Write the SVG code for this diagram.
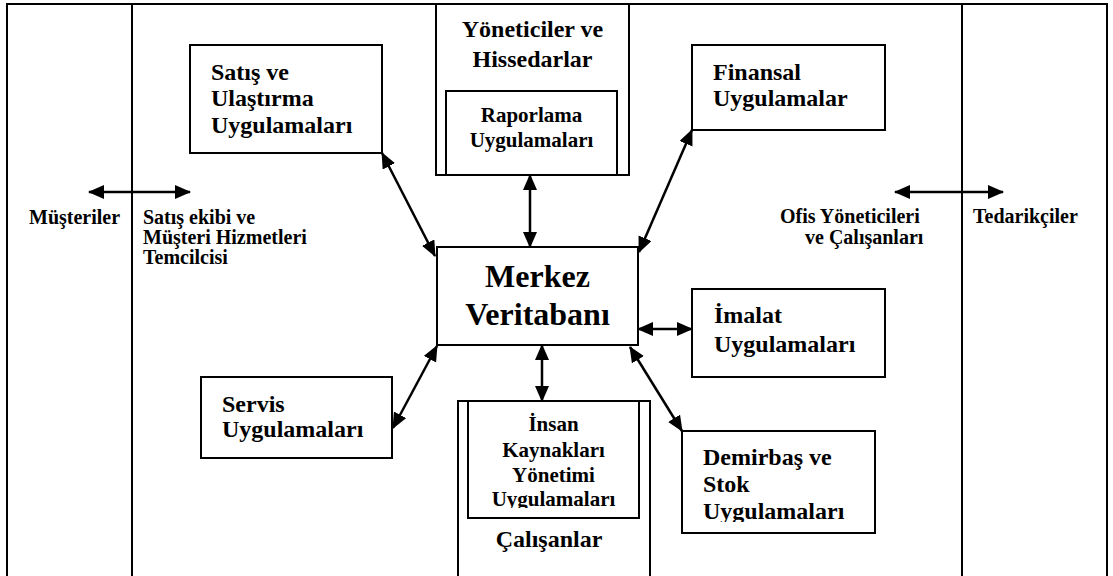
<svg xmlns="http://www.w3.org/2000/svg" width="1113" height="576" viewBox="0 0 1113 576">
<style>
text{font-family:"Liberation Serif","Times New Roman",serif;font-weight:bold;fill:#000}
.box{fill:none;stroke:#000;stroke-width:2}
.frame{fill:none;stroke:#000;stroke-width:2}
.conn{fill:none;stroke:#000;stroke-width:2.5;marker-start:url(#ah);marker-end:url(#ah)}
.t24{font-size:24px}
.t21{font-size:21px}
.t20{font-size:20px}
.t32{font-size:32px}
.mid{text-anchor:middle}
</style>
<defs>
<marker id="ah" markerUnits="userSpaceOnUse" markerWidth="18" markerHeight="16" refX="15" refY="7" orient="auto-start-reverse">
<path d="M0,0 L16,7 L0,14 z" fill="#000"/>
</marker>
<clipPath id="clipInsan"><rect x="468" y="401" width="171" height="107"/></clipPath>
<clipPath id="clipDemir"><rect x="682" y="431" width="193" height="91"/></clipPath>
</defs>
<rect width="1113" height="576" fill="#fff"/>
<g id="frame">
<path class="frame" d="M7,576 L7,4 L1107,4 L1107,576"/>
<line class="frame" x1="132" y1="4" x2="132" y2="576" stroke-width="1.6"/>
<line class="frame" x1="962" y1="4" x2="962" y2="576" stroke-width="1.6"/>
</g>
<g id="connectors">
<line class="conn" x1="89" y1="192" x2="190" y2="192"/>
<line class="conn" x1="895" y1="192" x2="1003" y2="192"/>
<line class="conn" x1="382" y1="153" x2="435" y2="256"/>
<line class="conn" x1="692" y1="130" x2="639" y2="252"/>
<line class="conn" x1="530" y1="175" x2="530" y2="247"/>
<line class="conn" x1="638" y1="329" x2="692" y2="329"/>
<line class="conn" x1="393" y1="428" x2="437" y2="346"/>
<line class="conn" x1="542" y1="345" x2="542" y2="401"/>
<line class="conn" x1="630" y1="347" x2="682" y2="431"/>
</g>
<g id="musteriler">
<text class="t20" x="29" y="224">Müşteriler</text>
</g>
<g id="satis-ekibi">
<text class="t20" x="143" y="224">Satış ekibi ve</text>
<text class="t20" x="143" y="244">Müşteri Hizmetleri</text>
<text class="t20" x="143" y="264">Temcilcisi</text>
</g>
<g id="ofis">
<text class="t20" x="780" y="223">Ofis Yöneticileri</text>
<text class="t20" x="805" y="244">ve Çalışanları</text>
</g>
<g id="tedarikciler">
<text class="t20" x="973" y="223">Tedarikçiler</text>
</g>
<g id="satis">
<rect class="box" x="190" y="45" width="192" height="108"/>
<text class="t24" x="211" y="80">Satış ve</text>
<text class="t24" x="211" y="106">Ulaştırma</text>
<text class="t24" x="211" y="133">Uygulamaları</text>
</g>
<g id="yoneticiler">
<rect class="box" x="436" y="4" width="193" height="171"/>
<text class="t24 mid" x="532.5" y="37">Yöneticiler ve</text>
<text class="t24 mid" x="532.5" y="67">Hissedarlar</text>
</g>
<g id="raporlama">
<path class="box" d="M446,175 L446,91 L617,91 L617,175"/>
<text class="t21 mid" x="531.5" y="122">Raporlama</text>
<text class="t21 mid" x="531.5" y="147">Uygulamaları</text>
</g>
<g id="finansal">
<rect class="box" x="692" y="45" width="193" height="85"/>
<text class="t24" x="713" y="80">Finansal</text>
<text class="t24" x="713" y="106">Uygulamalar</text>
</g>
<g id="merkez">
<rect class="box" x="437" y="247" width="201" height="98"/>
<text class="t32 mid" x="537.5" y="287">Merkez</text>
<text class="t32 mid" x="537.5" y="325">Veritabanı</text>
</g>
<g id="imalat">
<rect class="box" x="692" y="289" width="193" height="88"/>
<text class="t24" x="714" y="323">İmalat</text>
<text class="t24" x="714" y="352">Uygulamaları</text>
</g>
<g id="servis">
<rect class="box" x="201" y="377" width="191" height="81"/>
<text class="t24" x="222" y="412">Servis</text>
<text class="t24" x="222" y="437">Uygulamaları</text>
</g>
<g id="calisanlar">
<path class="box" d="M458,576 L458,401 L650,401 L650,576"/>
<text class="t24 mid" x="549" y="547">Çalışanlar</text>
</g>
<g id="insan-kaynaklari">
<rect class="box" x="468" y="401" width="171" height="117"/>
<g clip-path="url(#clipInsan)">
<text class="t21 mid" x="553.5" y="431">İnsan</text>
<text class="t21 mid" x="553.5" y="457">Kaynakları</text>
<text class="t21 mid" x="553.5" y="482">Yönetimi</text>
<text class="t21 mid" x="553.5" y="506">Uygulamaları</text>
</g>
</g>
<g id="demirbas">
<rect class="box" x="682" y="431" width="193" height="102"/>
<g clip-path="url(#clipDemir)">
<text class="t24" x="703" y="465">Demirbaş ve</text>
<text class="t24" x="703" y="492">Stok</text>
<text class="t24" x="703" y="519">Uygulamaları</text>
</g>
</g>
</svg>
